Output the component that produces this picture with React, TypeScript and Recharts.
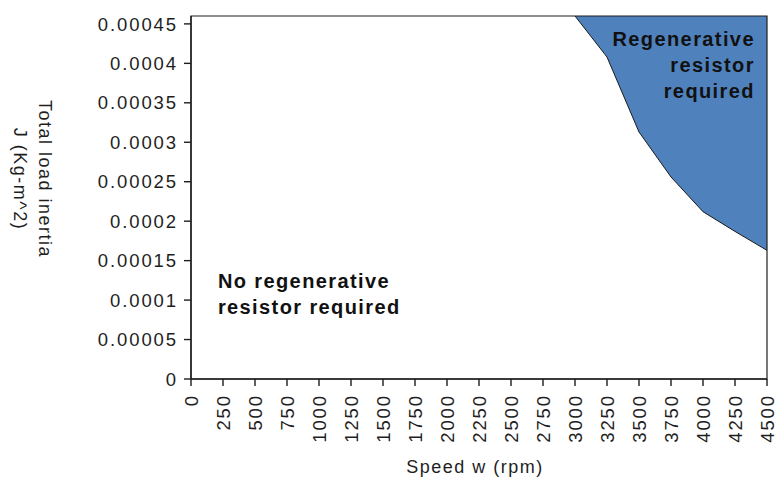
import React from "react";
import {
  Area,
  ComposedChart,
  ReferenceArea,
  ReferenceDot,
  XAxis,
  YAxis,
} from "recharts";

// curve: above it a regenerative resistor is needed
const speeds = [3000, 3250, 3500, 3750, 4000, 4250, 4500];
const inertia = [0.00046, 0.000408, 0.000313, 0.000256, 0.000212, 0.000187, 0.000163];

const xTicks = [
  0, 250, 500, 750, 1000, 1250, 1500, 1750, 2000, 2250, 2500, 2750, 3000, 3250,
  3500, 3750, 4000, 4250, 4500,
];
const yTicks = [
  0, 0.00005, 0.0001, 0.00015, 0.0002, 0.00025, 0.0003, 0.00035, 0.0004, 0.00045,
];
const X_MAX = 4500;
const Y_MAX = 0.00046;

const regenLines = ["Regenerative", "resistor", "required"];
const noRegenLines = ["No regenerative", "resistor required"];

const data = speeds.map((speed, i) => ({ speed, j: inertia[i] }));

const FONT = "'Liberation Sans', Arial, sans-serif";
const INK = "#1e1e1e";

const fmtY = (v: number) => String(Number(v.toPrecision(4)));

function XTick({ x, y, payload }: any) {
  return (
    <text
      x={x}
      y={y}
      dy="0.36em"
      transform={`rotate(-90 ${x} ${y})`}
      textAnchor="end"
      fill={INK}
      fontSize={18.5}
      letterSpacing={1.9}
      fontFamily={FONT}
    >
      {payload.value}
    </text>
  );
}

function YTick({ x, y, payload }: any) {
  return (
    <text
      x={x + 2}
      y={y}
      dy="0.36em"
      textAnchor="end"
      fill={INK}
      fontSize={18.5}
      letterSpacing={1.9}
      fontFamily={FONT}
    >
      {fmtY(payload.value)}
    </text>
  );
}

function YLabel({ viewBox }: any) {
  const cx = viewBox.x + 33;
  const cy = viewBox.y + 163;
  return (
    <text
      x={cx}
      y={cy}
      transform={`rotate(90 ${cx} ${cy})`}
      textAnchor="middle"
      fill={INK}
      fontSize={18}
      letterSpacing={1.5}
      fontFamily={FONT}
    >
      <tspan x={cx} dy={-6}>Total load inertia</tspan>
      <tspan x={cx} dy={25}>J (Kg-m^2)</tspan>
    </text>
  );
}

function XLabel({ viewBox }: any) {
  return (
    <text
      x={viewBox.x + viewBox.width / 2 - 4}
      y={viewBox.y + 94}
      textAnchor="middle"
      fill={INK}
      fontSize={18}
      letterSpacing={1.5}
      fontFamily={FONT}
    >
      Speed w (rpm)
    </text>
  );
}

function note(lines: string[], anchor: "start" | "end") {
  return ({ viewBox }: any) => {
    const x = viewBox.x + (anchor === "end" ? 2 : 0);
    return (
      <text
        x={x}
        y={viewBox.y}
        textAnchor={anchor}
        fill="#111"
        fontSize={20}
        fontWeight="bold"
        letterSpacing={1.4}
        fontFamily={FONT}
      >
        {lines.map((l, i) => (
          <tspan key={l} x={x} dy={i === 0 ? 7 : 26}>
            {l}
          </tspan>
        ))}
      </text>
    );
  };
}

export default function App() {
  return (
    <div style={{ position: "absolute", left: 0, top: 0, fontFamily: FONT }}>
      <ComposedChart
        width={778}
        height={481}
        data={data}
        margin={{ top: 16, right: 11, bottom: 0, left: 0 }}
      >
        <XAxis
          dataKey="speed"
          type="number"
          domain={[0, X_MAX]}
          ticks={xTicks}
          interval={0}
          tick={<XTick />}
          tickSize={7}
          tickMargin={8}
          height={102}
          axisLine={{ stroke: INK, strokeWidth: 1.4 }}
          tickLine={{ stroke: INK, strokeWidth: 1.4 }}
          label={<XLabel />}
        />
        <YAxis
          type="number"
          domain={[0, Y_MAX]}
          ticks={yTicks}
          interval={0}
          allowDataOverflow
          tick={<YTick />}
          tickSize={7}
          tickMargin={8}
          width={191}
          axisLine={{ stroke: INK, strokeWidth: 1.4 }}
          tickLine={{ stroke: INK, strokeWidth: 1.4 }}
          label={<YLabel />}
        />
        <Area
          type="linear"
          dataKey="j"
          baseValue="dataMax"
          stroke="#1a1a1a"
          strokeWidth={1}
          fill="#4F81BD"
          fillOpacity={1}
          isAnimationActive={false}
        />
        <ReferenceArea
          x1={0}
          x2={X_MAX}
          y1={0}
          y2={Y_MAX}
          fill="none"
          stroke={INK}
          strokeWidth={1.2}
        />
        <ReferenceDot
          x={4390}
          y={0.000431}
          r={0}
          ifOverflow="visible"
          label={note(regenLines, "end")}
        />
        <ReferenceDot
          x={210}
          y={0.0001246}
          r={0}
          ifOverflow="visible"
          label={note(noRegenLines, "start")}
        />
      </ComposedChart>
    </div>
  );
}
